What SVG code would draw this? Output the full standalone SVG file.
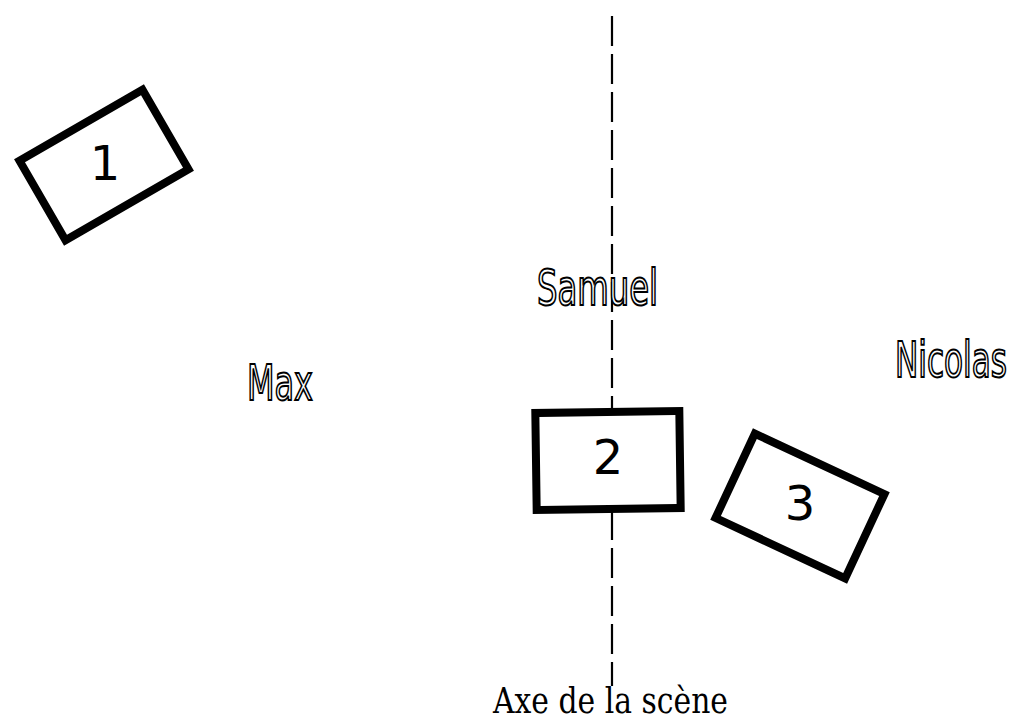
<svg xmlns="http://www.w3.org/2000/svg" width="1016" height="718" viewBox="0 0 1016 718">
<style>
.box{fill:#fff;stroke:#000;stroke-width:8}
.num{font-family:"DejaVu Sans",Verdana,sans-serif;font-size:48px;fill:#000;text-anchor:middle}
.name{font-family:"DejaVu Sans Condensed","Liberation Sans Narrow",sans-serif;font-size:50px;fill:#fff;stroke:#000;stroke-width:2;text-anchor:start}
.axis{stroke:#000;stroke-width:2.2;stroke-dasharray:30 8;fill:none}
.cap{font-family:"DejaVu Serif","Liberation Serif",serif;font-size:35px;fill:#000}
</style>
<rect width="1016" height="718" fill="#fff"/>
<g id="connectors">
<line class="axis" x1="612" y1="16" x2="612" y2="686"/>
</g>
<g id="box1">
<rect class="box" x="-71" y="-46" width="142" height="92" transform="translate(104,165) rotate(-30)"/>
<text class="num" x="105" y="180">1</text>
</g>
<g id="box2">
<rect class="box" x="-72" y="-48.5" width="144" height="97" transform="translate(608,460.5) rotate(-0.8)"/>
<text class="num" x="608" y="474">2</text>
</g>
<g id="box3">
<rect class="box" x="-71.5" y="-46.5" width="143" height="93" transform="translate(800,506) rotate(25)"/>
<text class="num" x="800" y="520">3</text>
</g>
<g id="samuel">
<text class="name" x="537" y="305" textLength="121" lengthAdjust="spacingAndGlyphs">Samuel</text>
</g>
<g id="max">
<text class="name" x="247" y="400" textLength="66" lengthAdjust="spacingAndGlyphs">Max</text>
</g>
<g id="nicolas">
<text class="name" x="895" y="377" textLength="112" lengthAdjust="spacingAndGlyphs">Nicolas</text>
</g>
<g id="axis-label">
<text class="cap" x="493" y="713" textLength="235" lengthAdjust="spacingAndGlyphs">Axe de la scène</text>
</g>
</svg>
